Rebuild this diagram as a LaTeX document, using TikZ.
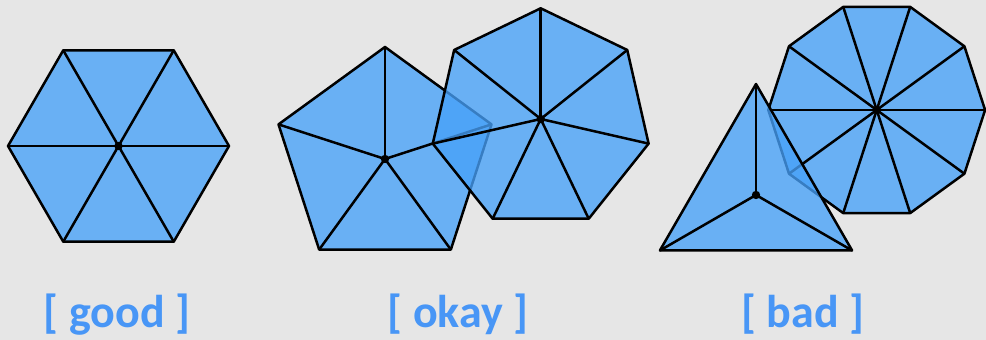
\documentclass[tikz,border=0pt]{standalone}
\usepackage{fontspec}
\setmainfont{Carlito}
\definecolor{bgcol}{RGB}{230,230,230}
\definecolor{polyblue}{RGB}{71,161,249}
\definecolor{labelblue}{RGB}{72,150,246}
\newcommand{\mypoly}[5]{%
\begin{scope}[shift={(#1,#2)}]
 \fill[polyfill] (#5:#3) \foreach \k in {1,...,#4} { -- ({#5+360*\k/#4}:#3)} -- cycle;
 \foreach \k in {1,...,#4} \draw[edgeline] (0,0) -- ({#5+360*\k/#4}:#3);
 \draw[edgeline] (#5:#3) \foreach \k in {1,...,#4} { -- ({#5+360*\k/#4}:#3)} -- cycle;
 \fill[black] (0,0) circle [radius=4.2pt];
\end{scope}}
\begin{document}
\begin{tikzpicture}[x=1pt,y=1pt,
  polyfill/.style={fill=polyblue, fill opacity=0.78},
  edgeline/.style={draw=black, line width=2.5pt, line join=round},
  lbl/.style={text=labelblue, font=\fontsize{46}{55}\selectfont\bfseries, anchor=base, inner sep=0pt}]
\fill[bgcol] (0,0) rectangle (986,340);
\useasboundingbox (0,0) rectangle (986,340);
% good
\mypoly{118.5}{194}{110.5}{6}{0}
% okay
\mypoly{385}{181}{112}{5}{90}
\mypoly{540.7}{221}{110.7}{7}{90}
% bad
\mypoly{876.7}{230}{108.4}{10}{0}
\mypoly{756}{145}{111}{3}{90}
\node[lbl] (good) at (117,12.5) {[ good ]};
\node[lbl] (okay) at (458,12.5) {[ okay ]};
\node[lbl] (bad) at (803,12.5) {[ bad ]};
\end{tikzpicture}
\end{document}
